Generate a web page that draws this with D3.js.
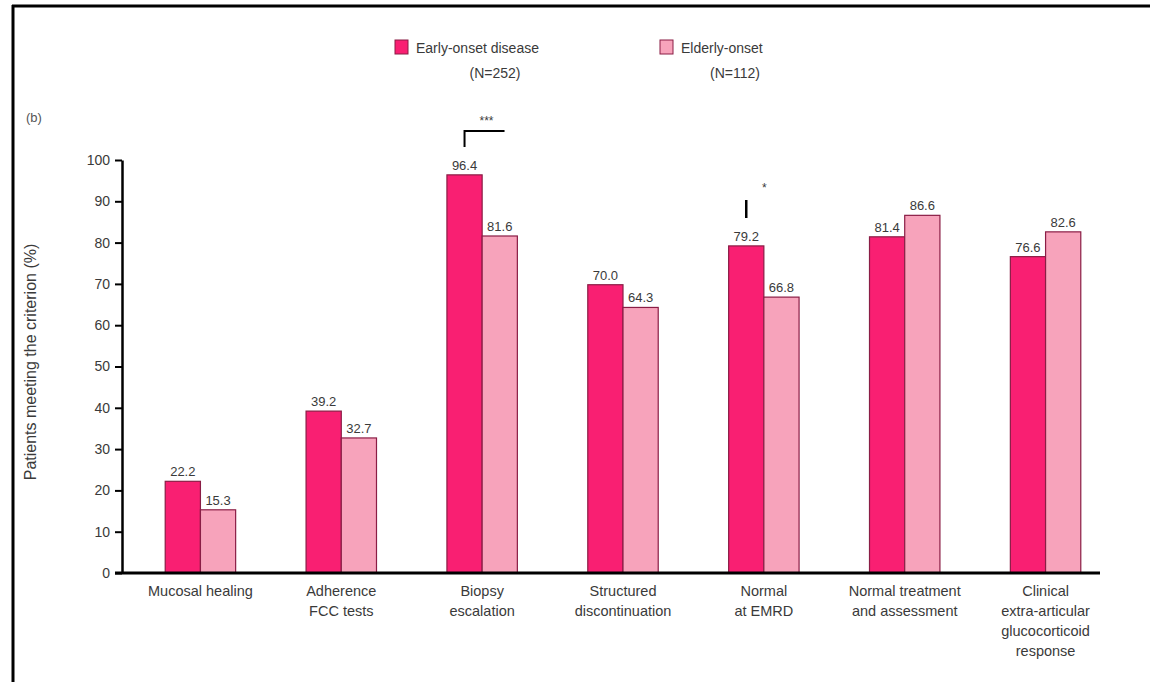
<!DOCTYPE html>
<html><head><meta charset="utf-8">
<script src="https://cdn.jsdelivr.net/npm/d3@7"></script>
<style>body{margin:0;background:#fff;font-family:"Liberation Sans",Arial,sans-serif}</style>
</head><body><svg id="c" width="1153" height="682"></svg>
<script>
const categories = [
  ["Mucosal healing"],
  ["Adherence","FCC tests"],
  ["Biopsy","escalation"],
  ["Structured","discontinuation"],
  ["Normal","at EMRD"],
  ["Normal treatment","and assessment"],
  ["Clinical","extra-articular","glucocorticoid","response"]
];
const seriesNames = [["Early-onset disease","(N=252)"],["Elderly-onset","(N=112)"]];
const earlyValues = [22.2, 39.2, 96.4, 69.8, 79.2, 81.4, 76.6];
const lateValues  = [15.3, 32.7, 81.6, 64.3, 66.8, 86.6, 82.6];
const earlyLabels = ["22.2","39.2","96.4","70.0","79.2","81.4","76.6"];
const lateLabels  = ["15.3","32.7","81.6","64.3","66.8","86.6","82.6"];
const yTicks = [0,10,20,30,40,50,60,70,80,90,100];
const colors = ["#f91f72","#f7a3bb"];

const svg = d3.select("#c");
const txt = "#3a3a3a";
// frame
svg.append("line").attr("x1",13).attr("x2",13).attr("y1",5).attr("y2",682).attr("stroke","#000").attr("stroke-width",3);
svg.append("line").attr("x1",12).attr("x2",1150).attr("y1",6).attr("y2",6).attr("stroke","#000").attr("stroke-width",3);

const x = d3.scaleBand().domain(d3.range(categories.length)).range([130,1116]).paddingInner(0.5).paddingOuter(0.25);
const y = d3.scaleLinear().domain([0,100]).range([573,160]);
const inner = d3.scaleBand().domain([0,1]).range([0,x.bandwidth()]);

const g = svg.append("g");
categories.forEach((c,i)=>{
  [earlyValues[i], lateValues[i]].forEach((v,j)=>{
    g.append("rect").attr("x",x(i)+inner(j)).attr("y",y(v)).attr("width",inner.bandwidth()).attr("height",y(0)-y(v))
     .attr("fill",colors[j]).attr("stroke","#8a1d45").attr("stroke-width",1.2);
    g.append("text").attr("x",x(i)+inner(j)+inner.bandwidth()/2).attr("y",y(v)-5)
     .attr("text-anchor","middle").attr("font-size",13).attr("fill",txt)
     .text(j===0?earlyLabels[i]:lateLabels[i]);
  });
});

// axes
const ya = svg.append("g").attr("transform","translate(122,0)")
  .call(d3.axisLeft(y).tickValues(yTicks).tickSize(7).tickSizeOuter(0).tickPadding(5));
ya.select(".domain").attr("stroke-width",2.5);
ya.selectAll(".tick line").attr("stroke-width",2);
ya.selectAll("text").attr("font-size",14).attr("fill",txt).attr("font-family","Liberation Sans, Arial");
svg.append("line").attr("x1",115).attr("x2",1100).attr("y1",573).attr("y2",573).attr("stroke","#000").attr("stroke-width",3);

// x labels
categories.forEach((c,i)=>{
  const cx = x(i)+x.bandwidth()/2;
  const t = svg.append("text").attr("x",cx).attr("y",596).attr("text-anchor","middle")
    .attr("font-size",14.5).attr("fill",txt);
  c.forEach((line,k)=>t.append("tspan").attr("x",cx).attr("dy",k===0?0:20).text(line));
});

// y title
svg.append("text").attr("transform","translate(36,362) rotate(-90)").attr("text-anchor","middle")
  .attr("font-size",16).attr("fill",txt).text("Patients meeting the criterion (%)");
svg.append("text").attr("x",26).attr("y",122).attr("font-size",13).attr("fill","#555").text("(b)");

// legend
const legX = [395,660];
seriesNames.forEach((s,j)=>{
  svg.append("rect").attr("x",legX[j]).attr("y",40).attr("width",13).attr("height",14).attr("fill",colors[j]).attr("stroke","#8a1d45");
  svg.append("text").attr("x",legX[j]+21).attr("y",53).attr("font-size",14).attr("fill",txt).text(s[0]);
  svg.append("text").attr("x",legX[j]+(j===0?100:75)).attr("y",78).attr("text-anchor","middle").attr("font-size",14).attr("fill",txt).text(s[1]);
});

// significance
const b3 = x(2)+inner.bandwidth()/2;
svg.append("path").attr("d",`M${b3},147 V131 H${b3+40}`).attr("fill","none").attr("stroke","#000").attr("stroke-width",2);
svg.append("text").attr("x",b3+22).attr("y",125).attr("text-anchor","middle").attr("font-size",12).attr("fill",txt).text("***");
const b5 = x(4)+inner.bandwidth()/2;
svg.append("line").attr("x1",b5).attr("x2",b5).attr("y1",200).attr("y2",218).attr("stroke","#000").attr("stroke-width",2.5);
svg.append("text").attr("x",b5+18).attr("y",192).attr("text-anchor","middle").attr("font-size",12).attr("fill",txt).text("*");
</script></body></html>
